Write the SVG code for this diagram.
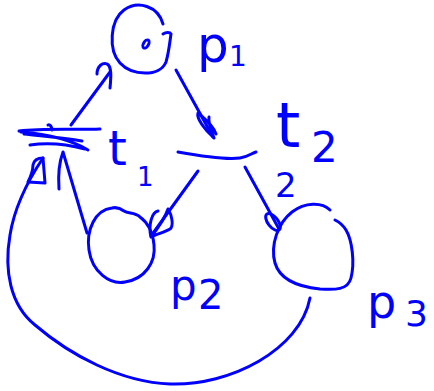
<svg xmlns="http://www.w3.org/2000/svg" width="434" height="391" viewBox="0 0 434 391">
<style>
.s{fill:none;stroke:#0000ff;stroke-width:3;stroke-linecap:round;stroke-linejoin:round}
.lbl{fill:#0000ff;font-family:"DejaVu Sans","Liberation Sans",sans-serif}
</style>
<rect width="434" height="391" fill="#ffffff"/>
<g id="p1">
<path class="s" d="M163,24 C158,6 138,0 124,10 C110,20 108,50 120,63 C132,76 160,77 166,62 C169,52 170,40 171,34 C170,32 166,32 163,34"/>
<ellipse class="s" cx="146" cy="44" rx="2.5" ry="4.5" transform="rotate(30 146 44)"/>
<text class="lbl" x="197" y="62" font-size="50">p</text>
<text class="lbl" x="229" y="66" font-size="28">1</text>
</g>
<g id="t1">
<path class="s" d="M19,131 C45,128 75,130 100,129 M21,132 C45,134 70,139 88,150 M30,145 C50,142 70,145 85,149 M24,134 C40,136 55,137 82,141 M48,125 C50,124 52,127 52,130"/>
<text class="lbl" x="108" y="165" font-size="48">t</text>
<text class="lbl" x="137" y="186" font-size="26">1</text>
</g>
<g id="t2">
<path class="s" d="M178,152 C200,156 225,160 240,158 C248,157 252,153 256,152"/>
<text class="lbl" x="276" y="147" font-size="62">t</text>
<text class="lbl" x="311" y="162" font-size="42">2</text>
</g>
<g id="p2">
<path class="s" d="M112,208 C95,210 86,230 89,250 C92,272 110,285 125,282 C145,279 156,262 154,245 C153,232 147,222 140,217 C135,212 128,214 124,211 C120,208 116,207 112,208 Z"/>
<text class="lbl" x="170" y="300" font-size="42">p</text>
<text class="lbl" x="198" y="309" font-size="40">2</text>
</g>
<g id="p3">
<path class="s" d="M330,210 C322,202 305,202 292,212 C278,223 270,245 275,263 C280,280 300,287 320,289 C335,290 348,290 351,278 C355,262 352,240 346,230 C343,225 339,222 335,220"/>
<text class="lbl" x="367" y="318" font-size="46">p</text>
<text class="lbl" x="405" y="326" font-size="36">3</text>
</g>
<g id="connectors">
<path class="s" d="M71,125 L110,72"/>
<path class="s" d="M97,74 C97,66 103,62 107,64 C112,66 111,78 110,88"/>
<path class="s" d="M176,70 L213,137"/>
<path class="s" d="M214,138 C205,130 196,118 198,113 C204,118 213,125 216,134 M214,138 C210,128 208,122 209,117"/>
<path class="s" d="M198,171 L151,236"/>
<path class="s" d="M151,237 C148,225 152,212 158,211 M151,237 C158,228 165,218 168,209 C172,215 174,226 170,229 C165,232 157,234 151,237"/>
<path class="s" d="M245,167 L279,229"/>
<ellipse class="s" cx="273" cy="222" rx="10" ry="5" transform="rotate(52 273 222)"/>
<text class="lbl" x="275" y="197" font-size="34">2</text>
<path class="s" d="M87,233 L63,152 M63,152 C60,160 58,175 59,189"/>
<path class="s" d="M310,298 C300,350 230,386 170,384 C120,382 70,355 35,325 C10,305 4,270 10,235 C14,210 25,185 43,158"/>
<path class="s" d="M28,182 C31,176 33,170 33,165 C34,160 38,158 43,158 L45,183 Z"/>
</g>
</svg>
